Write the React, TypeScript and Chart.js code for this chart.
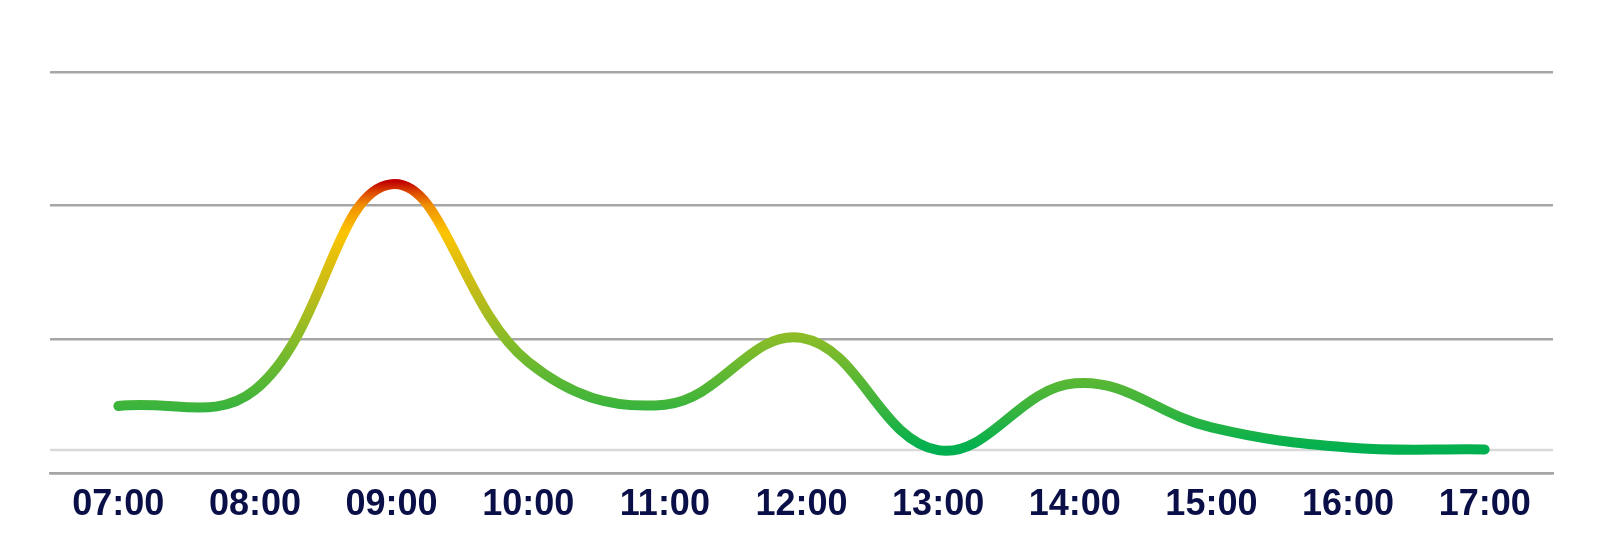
import React, { useEffect, useRef } from "react";
import { Chart, registerables } from "chart.js";

Chart.register(...registerables);

const hours = ["07:00", "08:00", "09:00", "10:00", "11:00", "12:00", "13:00", "14:00", "15:00", "16:00", "17:00"];
const load = [50, 62, 216, 83, 51, 101, 17, 67, 34, 19, 17.5];
const yMin = 0;
const yMax = 300;
const yStep = 100;
const baselineValue = 17;
const stopValues = [17, 50, 100, 137, 180, 200, 210, 218];
const stopColors = ["#00b050", "#3cb43c", "#88bc28", "#c4bc18", "#fcc400", "#f09000", "#dc4800", "#c00000"];

const baselinePlugin = {
  id: "baseline",
  beforeDatasetsDraw(chart: any) {
    const { ctx, chartArea, scales } = chart;
    const y = scales.y.getPixelForValue(baselineValue);
    ctx.save();
    ctx.strokeStyle = "#d9d9d9";
    ctx.lineWidth = 2.5;
    ctx.beginPath();
    ctx.moveTo(chartArea.left, y);
    ctx.lineTo(chartArea.right, y);
    ctx.stroke();
    ctx.restore();
  },
};

export default function App() {
  const ref = useRef<HTMLCanvasElement>(null);

  useEffect(() => {
    if (!ref.current) return;
    const chart = new Chart(ref.current, {
      type: "line",
      data: {
        labels: hours,
        datasets: [
          {
            data: load,
            tension: 0.4,
            borderWidth: 10,
            borderCapStyle: "round",
            borderJoinStyle: "round",
            pointRadius: 0,
            pointHoverRadius: 0,
            fill: false,
            borderColor: (c: any) => {
              const { chart } = c;
              const { chartArea, scales } = chart;
              if (!chartArea || !scales.y) return stopColors[0];
              const v0 = stopValues[0];
              const v1 = stopValues[stopValues.length - 1];
              const y0 = scales.y.getPixelForValue(v0);
              const y1 = scales.y.getPixelForValue(v1);
              const g = chart.ctx.createLinearGradient(0, y0, 0, y1);
              stopValues.forEach((v, i) => {
                g.addColorStop((v - v0) / (v1 - v0), stopColors[i]);
              });
              return g;
            },
          },
        ],
      },
      options: {
        responsive: false,
        animation: false,
        layout: { padding: { left: 50, right: 51, top: 72, bottom: 17 } },
        plugins: { legend: { display: false }, tooltip: { enabled: false } },
        scales: {
          x: {
            offset: true,
            grid: { display: false, drawTicks: false },
            border: { display: true, color: "#a6a6a6", width: 2.5 },
            ticks: {
              color: "#0a1047",
              padding: 11,
              maxRotation: 0,
              font: { family: "'Liberation Sans', Arial, sans-serif", size: 36, weight: "bold" },
            },
          },
          y: {
            min: yMin,
            max: yMax,
            ticks: { display: false, stepSize: yStep },
            grid: { color: "#a6a6a6", lineWidth: 2.5, drawTicks: false },
            border: { display: false },
          },
        },
      },
      plugins: [baselinePlugin],
    });
    return () => chart.destroy();
  }, []);

  return (
    <div style={{ position: "absolute", left: 0, top: 0, width: 1604, height: 555 }}>
      <canvas ref={ref} width={1604} height={555} style={{ display: "block" }} />
    </div>
  );
}
